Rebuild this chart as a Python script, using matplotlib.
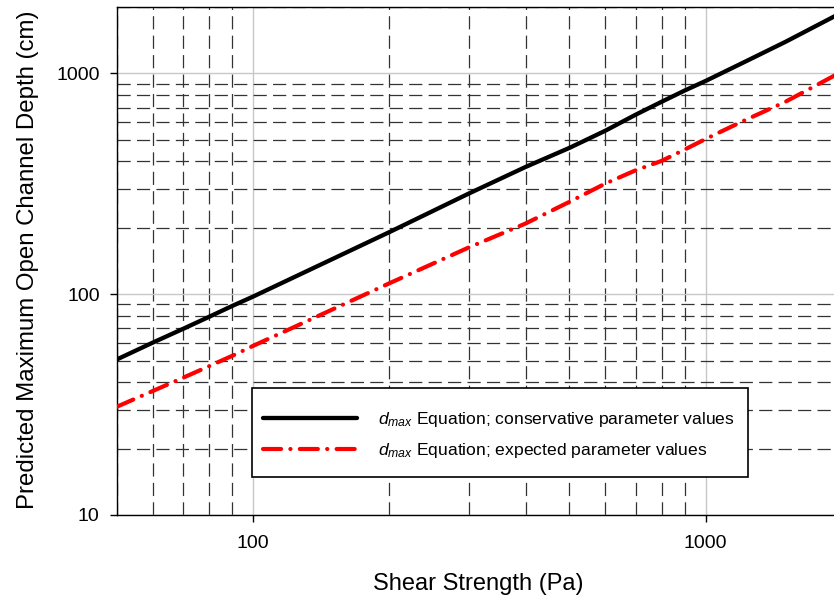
import numpy as np
import matplotlib
matplotlib.use("Agg")
import matplotlib.pyplot as plt
from matplotlib.ticker import LogLocator, FuncFormatter, NullFormatter
from matplotlib.patches import Rectangle

plt.rcParams['font.family'] = ['Liberation Sans', 'DejaVu Sans']
plt.rcParams['mathtext.fontset'] = 'custom'
plt.rcParams['mathtext.rm'] = 'Liberation Sans'
plt.rcParams['mathtext.it'] = 'Liberation Sans:italic'
plt.rcParams['lines.scale_dashes'] = False

# shear strength (Pa) and predicted max depth (cm)
shear = [50, 60, 70, 80, 90, 100, 200, 300, 400, 500, 600, 700, 800, 900,
         1000, 1200, 1500, 2000]
depth_conservative = [50.6, 60.3, 69.6, 79.0, 88.5, 97.5, 191, 286, 377, 460,
                      550, 650, 745, 838, 925, 1110, 1390, 1890]
depth_expected = [30.9, 36.4, 41.8, 47.2, 52.6, 58.3, 112, 163, 209, 262, 317,
                  364, 402, 453, 505, 604, 744, 1020]

labels = [r'$d_{max}$ Equation; conservative parameter values',
          r'$d_{max}$ Equation; expected parameter values']

fig = plt.figure(figsize=(8.34, 6.01), dpi=100)
ax = fig.add_axes([0.1399, 0.1431, 0.8697, 0.8453])

ax.set_xscale('log')
ax.set_yscale('log')
ax.set_xlim(50, 2000)
ax.set_ylim(10, 2000)

l1, = ax.plot(shear, depth_conservative, color='black', lw=3.1,
              solid_capstyle='round', zorder=4)
l2, = ax.plot(shear, depth_expected, color='red', lw=3.0,
              ls=(0, (13, 6.7, 0.1, 6.7)), dash_capstyle='round', zorder=4)

# grid: light solid on decades, dark dashed in between
ax.set_axisbelow(True)
for axis in (ax.xaxis, ax.yaxis):
    axis.set_major_locator(LogLocator(base=10))
    axis.set_minor_locator(LogLocator(base=10, subs=np.arange(2, 10)))
    axis.set_major_formatter(FuncFormatter(lambda v, p: f'{v:g}'))
    axis.set_minor_formatter(NullFormatter())
ax.grid(which='major', color='#c8c8c8', lw=1.0, ls='-')
ax.grid(which='minor', color='#333333', lw=0.9, ls=(0, (9.5, 4.5)))

ax.tick_params(which='major', direction='out', length=4.7, width=1.0,
               labelsize=14, colors='black')
ax.tick_params(axis='x', which='major', pad=9.5)
ax.tick_params(axis='y', which='major', pad=7.5)
ax.tick_params(which='minor', length=0)
for sp in ax.spines.values():
    sp.set_linewidth(1.0)
    sp.set_color('black')

ax.set_xlabel('Shear Strength (Pa)', fontsize=17)
ax.set_ylabel('Predicted Maximum Open Channel Depth (cm)', fontsize=17.3)
ax.xaxis.set_label_coords(0.499, -0.114)
ax.yaxis.set_label_coords(-0.107, 0.503)

# legend box
ax.add_patch(Rectangle((0.1866, 0.0742), 0.6844, 0.1752, transform=ax.transAxes,
                       facecolor='white', edgecolor='black', lw=1.2, zorder=5))
leg = ax.legend([l1, l2], labels, loc='upper left',
                bbox_to_anchor=(0.2017, 0.2066), frameon=False, fontsize=12.6,
                handlelength=5.37, handletextpad=1.2, labelspacing=0.68,
                borderpad=0, borderaxespad=0)
leg.set_zorder(6)

fig.savefig('out.png', dpi=100)
